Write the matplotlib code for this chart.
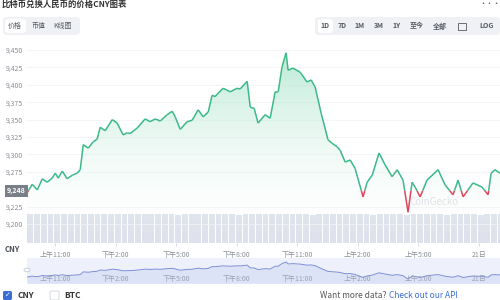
import matplotlib
matplotlib.use("Agg")
import matplotlib.pyplot as plt
import numpy as np
from matplotlib.patches import FancyBboxPatch, Rectangle
from matplotlib.collections import LineCollection

plt.rcParams['font.family'] = ['Noto Sans CJK SC', 'DejaVu Sans']

# price series: hours (11 = 上午11:00, 24 = midnight) and CNY price
hours = [9.61, 9.86, 10.11, 10.36, 10.60, 10.85, 11.00, 11.15, 11.35, 11.59, 11.84,
         12.09, 12.24, 12.39, 12.64, 12.88, 13.08, 13.23, 13.48, 13.83, 14.07, 14.37,
         14.57, 14.72, 15.07, 15.46, 15.71, 15.96, 16.21, 16.55, 16.80, 16.95, 17.20,
         17.54, 17.79, 18.09, 18.34, 18.59, 18.78, 18.93, 19.08, 19.33, 19.68, 20.02,
         20.17, 20.52, 20.67, 20.87, 21.06, 21.41, 21.66, 21.91, 22.06, 22.25, 22.45,
         22.55, 22.80, 23.15, 23.49, 23.69, 23.89, 24.19, 24.53, 24.73, 24.98, 25.13,
         25.38, 25.63, 25.87, 26.27, 26.47, 26.72, 27.06, 27.36, 27.71, 27.96, 28.25,
         28.50, 28.70, 28.85, 29.10, 29.44, 29.99, 30.34, 30.73, 30.98, 31.23, 31.72,
         32.17, 32.47, 32.62, 32.81, 33.06]
prices = [9245, 9257, 9249, 9265, 9260, 9266, 9273, 9266, 9276, 9265, 9270,
          9273, 9278, 9314, 9309, 9318, 9322, 9339, 9334, 9350, 9345, 9328,
          9331, 9330, 9338, 9351, 9347, 9351, 9348, 9357, 9362, 9354, 9336,
          9347, 9349, 9364, 9354, 9361, 9385, 9383, 9388, 9395, 9390, 9395,
          9394, 9405, 9368, 9366, 9345, 9357, 9352, 9390, 9390, 9426, 9446,
          9421, 9424, 9418, 9404, 9407, 9397, 9359, 9321, 9316, 9311, 9306,
          9289, 9292, 9280, 9239, 9260, 9270, 9302, 9285, 9268, 9278, 9263,
          9217, 9260, 9253, 9239, 9263, 9278, 9256, 9242, 9263, 9239, 9259,
          9253, 9242, 9273, 9278, 9273]
base_price = 9248

# 20-minute volume bars
volumes = [8.7, 8.8, 8.7, 8.7, 8.8, 8.7, 8.7, 8.8, 8.7, 8.7, 8.8, 8.7,
           8.7, 8.7, 8.8, 8.7, 8.7, 8.7, 8.8, 8.7, 8.7, 8.7, 8.6, 8.7,
           8.7, 8.7, 8.7, 8.8, 8.7, 8.7, 8.7, 8.6, 8.7, 8.7, 8.7, 8.7,
           8.7, 8.8, 8.7, 8.7, 8.7, 8.7, 8.6, 8.7, 8.7, 8.7, 8.7, 8.7,
           8.7, 8.7, 8.7, 8.6, 8.7, 8.7, 8.7, 8.7, 8.6, 8.7, 8.7, 8.7,
           8.7, 8.7, 8.6, 8.7, 8.7, 8.7, 8.7, 8.6, 8.7, 8.7, 8.7, 8.7]

y_ticks = [9200, 9225, 9275, 9300, 9325, 9350, 9375, 9400, 9425, 9450]
x_ticks = [11, 14, 17, 20, 23, 26, 29, 32]
x_labels = ['上午11:00', '下午2:00', '下午5:00', '下午8:00', '下午11:00',
            '上午2:00', '上午5:00', '21日']
range_buttons = ['1D', '7D', '1M', '3M', '1Y', '至今', '全部', '', 'LOG']
tabs = ['价格', '币值', 'K线图']

W, H = 500, 300
fig = plt.figure(figsize=(5, 3), dpi=100)
fig.patch.set_facecolor('white')

def box(x0, y0, x1, y1):
    return [x0 / W, 1 - y1 / H, (x1 - x0) / W, (y1 - y0) / H]

xmin, xmax = 9.6, 33.06
green = '#3cb98a'
red = '#e0465a'
gray_txt = '#8a8f98'

# volume axes (behind)
axv = fig.add_axes(box(27, 214, 500, 243))
step = 1 / 3
vx = xmin + step / 2 + np.arange(len(volumes)) * step
axv.bar(vx, volumes, width=step * 0.86, color='#dfe2ec', linewidth=0)
axv.set_xlim(xmin, xmax)
axv.set_ylim(0, 8.8)
axv.axis('off')

# main price axes
ax = fig.add_axes(box(27, 42, 500, 243))
ax.patch.set_alpha(0)
ylo = 9200 - 19 / 0.696
yhi = 9450 + 8 / 0.696
ax.set_xlim(xmin, xmax)
ax.set_ylim(ylo, yhi)
for yt in y_ticks:
    ax.axhline(yt, color='#f1f2f4', lw=0.6, zorder=0)

# gradient fill under the line
t = np.array(hours)
p = np.array(prices)
grad = np.linspace(0, 1, 256).reshape(-1, 1)
cmap = matplotlib.colors.LinearSegmentedColormap.from_list(
    'g', [(1, 1, 1, 0), (0.62, 0.88, 0.77, 0.7)])
im = ax.imshow(grad, extent=[xmin, xmax, ylo, p.max()], origin='lower',
               aspect='auto', cmap=cmap, zorder=1)
poly = ax.fill_between(t, p, ylo, color='none')
clip = poly.get_paths()[0]
im.set_clip_path(clip, transform=ax.transData)

# line coloured red below base price
tt, pp = [t[0]], [p[0]]
for i in range(1, len(t)):
    a, b = p[i - 1], p[i]
    if (a - base_price) * (b - base_price) < 0:
        f = (base_price - a) / (b - a)
        tt.append(t[i - 1] + f * (t[i] - t[i - 1]))
        pp.append(base_price)
    tt.append(t[i])
    pp.append(p[i])
tt, pp = np.array(tt), np.array(pp)
segs = np.stack([np.column_stack([tt[:-1], pp[:-1]]),
                 np.column_stack([tt[1:], pp[1:]])], axis=1)
cols = [red if (pp[i] + pp[i + 1]) / 2 < base_price else green
        for i in range(len(pp) - 1)]
ax.add_collection(LineCollection(segs, colors=cols, linewidths=1.1, zorder=3))

ax.set_yticks(y_ticks)
ax.set_yticklabels([f'{v:,}' for v in y_ticks], fontsize=5, color=gray_txt)
ax.tick_params(axis='y', length=0, pad=3)
ax.set_xticks(x_ticks)
ax.set_xticklabels(x_labels, fontsize=5, color=gray_txt)
ax.tick_params(axis='x', length=2.5, width=0.5, color='#c9ccd3', pad=3)
for s in ax.spines.values():
    s.set_visible(False)

ax.text(-0.002, base_price, f'{base_price:,}', transform=ax.get_yaxis_transform(),
        ha='right', va='center', fontsize=5, color='white', fontweight='bold',
        bbox=dict(boxstyle='square,pad=0.35', fc='#7a7f87', ec='none'), zorder=5)
ax.text(0.86, 9232, 'CoinGecko', transform=ax.get_yaxis_transform(),
        fontsize=7, color='#d8dbe0', alpha=0.8, ha='center', va='center')
fig.text(12 / W, 1 - 250 / H, 'CNY', fontsize=5.5, color='#4a4f57',
         fontweight='bold', ha='center', va='center')

# navigator
axn = fig.add_axes(box(27, 258, 500, 283))
axn.set_facecolor('#eef1fb')
axn.fill_between(t, p, 9160, color='#dde3f6', lw=0)
axn.plot(t, p, color='#7d8fd8', lw=0.7)
axn.set_xlim(xmin, xmax)
axn.set_ylim(9165, 9500)
for xt, lab in zip(x_ticks, x_labels):
    axn.text(xt, 9220, lab, fontsize=5, color='#9aa0b5', ha='center', va='center')
axn.set_xticks([])
axn.set_yticks([])
for s in axn.spines.values():
    s.set_visible(False)
fig.patches.append(matplotlib.patches.Circle((27 / W, 1 - 270 / H), 0.006,
                   transform=fig.transFigure, fc='white', ec='#b8bfd6', lw=0.5))

# title (at the very top edge)
fig.text(2 / W, 1 - 4 / H, '比特币兑换人民币的价格CNY图表', fontsize=6,
         fontweight='bold', color='#333', ha='left', va='center')
fig.text(490 / W, 1 - 4 / H, '···', fontsize=5, color='#555', ha='center', va='center')

# tabs
fig.patches.append(FancyBboxPatch((3 / W, 1 - 35 / H), 77 / W, 18 / H,
                   boxstyle='round,pad=0,rounding_size=0.01',
                   transform=fig.transFigure, fc='#eff1f4', ec='none'))
fig.patches.append(FancyBboxPatch((5 / W, 1 - 33 / H), 21 / W, 14 / H,
                   boxstyle='round,pad=0,rounding_size=0.008',
                   transform=fig.transFigure, fc='white', ec='none'))
for xp, lab in zip([15, 39, 63], tabs):
    fig.text(xp / W, 1 - 26 / H, lab, fontsize=5, color='#555b64',
             ha='center', va='center')

# range buttons
fig.patches.append(FancyBboxPatch((315 / W, 1 - 35 / H), 185 / W, 18 / H,
                   boxstyle='round,pad=0,rounding_size=0.01',
                   transform=fig.transFigure, fc='#eff1f4', ec='none'))
fig.patches.append(FancyBboxPatch((318 / W, 1 - 33 / H), 15 / W, 14 / H,
                   boxstyle='round,pad=0,rounding_size=0.008',
                   transform=fig.transFigure, fc='white', ec='none'))
for xp, lab in zip([325, 342, 360, 379, 397, 417, 440, 462, 487], range_buttons):
    fig.text(xp / W, 1 - 26 / H, lab, fontsize=5, color='#555b64',
             fontweight='bold', ha='center', va='center')
fig.patches.append(Rectangle((458 / W, 1 - 30 / H), 8 / W, 7 / H,
                   transform=fig.transFigure, fc='none', ec='#555b64', lw=0.6))

# legend checkboxes
fig.patches.append(FancyBboxPatch((3 / W, 1 - 300 / H), 9 / W, 9 / H,
                   boxstyle='round,pad=0,rounding_size=0.004',
                   transform=fig.transFigure, fc='#3b6fd6', ec='none'))
fig.text(7.5 / W, 1 - 295.5 / H, '✓', fontsize=5, color='white',
         ha='center', va='center', fontweight='bold', family='DejaVu Sans')
fig.text(17 / W, 1 - 296 / H, 'CNY', fontsize=6, color='#333',
         fontweight='bold', ha='left', va='center')
fig.patches.append(FancyBboxPatch((50 / W, 1 - 300 / H), 9 / W, 9 / H,
                   boxstyle='round,pad=0,rounding_size=0.004',
                   transform=fig.transFigure, fc='white', ec='#cfd3da', lw=0.6))
fig.text(64 / W, 1 - 296 / H, 'BTC', fontsize=6, color='#333',
         fontweight='bold', ha='left', va='center')

fig.text(389 / W, 1 - 296 / H, 'Check out our API', fontsize=6, color='#3b6fd6',
         ha='left', va='center')
fig.text(388 / W, 1 - 296 / H, 'Want more data? ', fontsize=6, color='#555',
         ha='right', va='center')

fig.savefig('out.png', dpi=100)
